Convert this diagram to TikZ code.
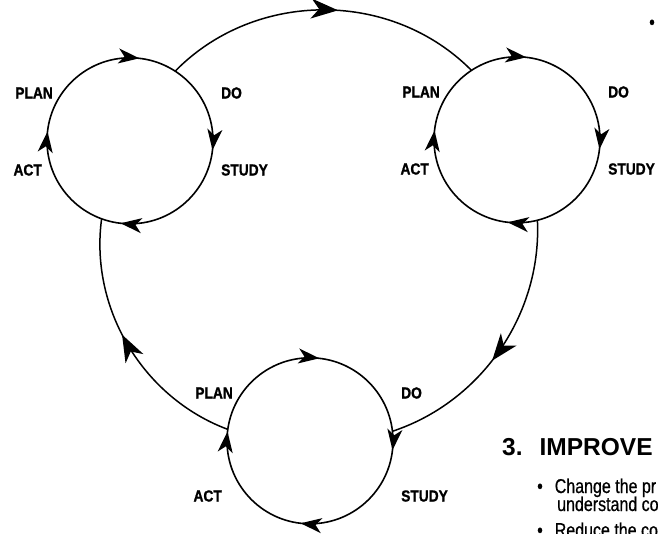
\documentclass[tikz,border=0pt]{standalone}
\usepackage{fontspec}
\setmainfont{Liberation Sans}
\newfontfamily\labelfont[FakeStretch=0.86,FakeBold=1.2]{Liberation Sans Bold}
\newfontfamily\narrowfont[FakeStretch=0.8,FakeBold=0.6]{Liberation Sans}
\usetikzlibrary{arrows.meta,decorations.markings}

\tikzset{
  pdsaring/.style={line width=1.6pt, fill=white, postaction={decorate},
    decoration={markings,
      mark=at position 0.018 with {\arrow{Stealth[length=21pt,width=15pt,inset=6pt]}},
      mark=at position 0.268 with {\arrow{Stealth[length=21pt,width=15pt,inset=6pt]}},
      mark=at position 0.518 with {\arrow{Stealth[length=21pt,width=15pt,inset=6pt]}},
      mark=at position 0.768 with {\arrow{Stealth[length=21pt,width=15pt,inset=6pt]}}}},
  bigarc/.style={line width=1.5pt, postaction={decorate},
    decoration={markings,
      mark=at position 0.53 with {\arrow{Stealth[length=27pt,width=20pt,inset=8pt]}}}},
  phase/.style={font=\labelfont\fontsize{16}{19}\selectfont, inner sep=0pt},
  bodytext/.style={font={\narrowfont\fontsize{20}{24}\selectfont}, inner sep=0pt, anchor=base west}
}

\begin{document}
\begin{tikzpicture}[x=1pt,y=1pt]
  \useasboundingbox (0,0) rectangle (660,-534);
  \clip (0,0) rectangle (660,-534);

  % the three cycles
  \foreach \n/\x/\y in {1/130/141, 2/517/140, 3/310/441}
    \node[circle, minimum size=166pt, inner sep=0pt] (c\n) at (\x,-\y) {};

  % big loop, centre to centre
  \draw[bigarc] (c1.center) to[bend left=68, looseness=1.24] (c2.center);
  \draw[bigarc] (c2.center) to[bend left=60, looseness=1.13] (c3.center);
  \draw[bigarc] (c3.center) to[bend left=63, looseness=1.17] (c1.center);

  \foreach \n/\s in {1/29, 2/29, 3/55} {
    \draw[pdsaring] (c\n.north) arc[start angle=90, end angle=-270, radius=83pt];
    \node[phase, anchor=east] (plan\n) at ([shift={(-77,48)}]c\n.center) {PLAN};
    \node[phase, anchor=west] (do\n) at ([shift={(91,48)}]c\n.center) {DO};
    \node[phase, anchor=west] (study\n) at ([shift={(91,-\s)}]c\n.center) {STUDY};
    \node[phase, anchor=east] (act\n) at ([shift={(-88,-\s)}]c\n.center) {ACT};
  }

  % text on the right
  \node[bodytext, anchor=base] (dot) at (652,-29) {\textbullet};
  \node[anchor=base west, inner sep=0pt, font=\bfseries\fontsize{24.5}{29}\selectfont]
    (improve) at (502,-455) {3.\hspace{17pt}IMPROVE};
  \node[bodytext] (item1) at (537,-493) {\textbullet\hspace{12pt}Change the pr};
  \node[bodytext] (item1b) at (557,-511) {understand co};
  \node[bodytext] (item2) at (537,-537) {\textbullet\hspace{12pt}Reduce the co};
\end{tikzpicture}
\end{document}
